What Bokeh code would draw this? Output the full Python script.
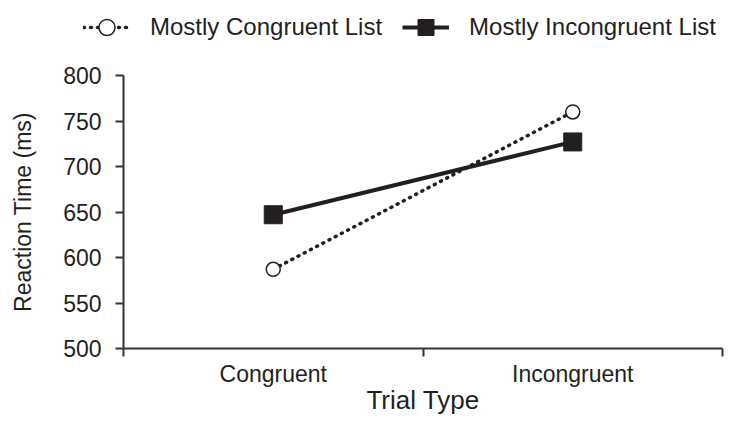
from bokeh.plotting import figure
from bokeh.models import Range1d, FixedTicker, Legend, LegendItem
from bokeh.layouts import column
from bokeh.embed import file_html
from bokeh.resources import INLINE

categories = ["Congruent", "Incongruent"]
mostly_congruent = [587, 760]
mostly_incongruent = [647, 727]
y_ticks = [500, 550, 600, 650, 700, 750, 800]
series_names = ["Mostly Congruent List", "Mostly Incongruent List"]

FONT = "Liberation Sans"
INK = "#231f20"
AXIS = "#333333"

xs = [i + 0.5 for i in range(len(categories))]
bounds = list(range(len(categories) + 1))


def draw_series(fig):
    l1 = fig.line(xs, mostly_congruent, line_color=INK, line_width=3.5,
                  line_dash="1 6", line_cap="round")
    s1 = fig.scatter(xs, mostly_congruent, marker="circle", size=14,
                     fill_color="white", line_color=INK, line_width=1.5)
    l2 = fig.line(xs, mostly_incongruent, line_color=INK, line_width=4)
    s2 = fig.scatter(xs, mostly_incongruent, marker="square", size=18,
                     fill_color=INK, line_color=INK, line_width=1)
    return [(l1, s1), (l2, s2)]


# ---- legend strip (its own small figure so the legend is not clipped) ----
leg = figure(width=724, height=50, output_backend="svg", toolbar_location=None,
             x_range=Range1d(-20, -19), y_range=Range1d(0, 1),
             x_axis_type=None, y_axis_type=None, min_border=0,
             min_border_left=0, min_border_right=0, min_border_top=0, min_border_bottom=0)
leg.outline_line_color = None
leg.grid.grid_line_color = None
leg_pairs = draw_series(leg)
legend = Legend(items=[LegendItem(label=n, renderers=list(r)) for n, r in zip(series_names, leg_pairs)],
                orientation="horizontal", location=(83, 3),
                glyph_width=47, glyph_height=40, label_height=40, label_standoff=20, spacing=20,
                padding=0, margin=0, border_line_color=None, background_fill_alpha=0,
                label_text_font=FONT, label_text_font_size="24px", label_text_color=INK)
leg.add_layout(legend, "center")

# ---- main chart ----
p = figure(width=724, height=367, output_backend="svg", toolbar_location=None,
           x_range=Range1d(0, len(categories)), y_range=Range1d(y_ticks[0], y_ticks[-1]),
           min_border_left=123, min_border_right=2, min_border_top=25, min_border_bottom=66)
p.outline_line_color = None
p.grid.grid_line_color = None

xa = p.xaxis[0]
xa.ticker = FixedTicker(ticks=xs, minor_ticks=bounds)
xa.major_label_overrides = {x: c for x, c in zip(xs, categories)}
xa.major_tick_out = 0
xa.major_tick_in = 0
xa.minor_tick_out = 8
xa.minor_tick_in = 0
xa.minor_tick_line_color = AXIS
xa.minor_tick_line_width = 2
xa.axis_line_color = AXIS
xa.axis_line_width = 2
xa.major_label_standoff = 4
xa.major_label_text_font = FONT
xa.major_label_text_font_size = "23px"
xa.major_label_text_color = INK
xa.axis_label = "Trial Type"
xa.axis_label_text_font = FONT
xa.axis_label_text_font_size = "26px"
xa.axis_label_text_font_style = "normal"
xa.axis_label_text_color = INK
xa.axis_label_standoff = -5

ya = p.yaxis[0]
ya.ticker = FixedTicker(ticks=y_ticks, minor_ticks=[])
ya.major_tick_out = 8
ya.major_tick_in = 0
ya.major_tick_line_color = AXIS
ya.major_tick_line_width = 2
ya.axis_line_color = AXIS
ya.axis_line_width = 2
ya.major_label_standoff = 14
ya.major_label_text_font = FONT
ya.major_label_text_font_size = "23px"
ya.major_label_text_color = INK
ya.axis_label = "Reaction Time (ms)"
ya.axis_label_text_font = FONT
ya.axis_label_text_font_size = "23px"
ya.axis_label_text_font_style = "normal"
ya.axis_label_text_color = INK
ya.axis_label_standoff = 24

draw_series(p)

open("out.html", "w").write(file_html(column(column(leg), p), INLINE))
